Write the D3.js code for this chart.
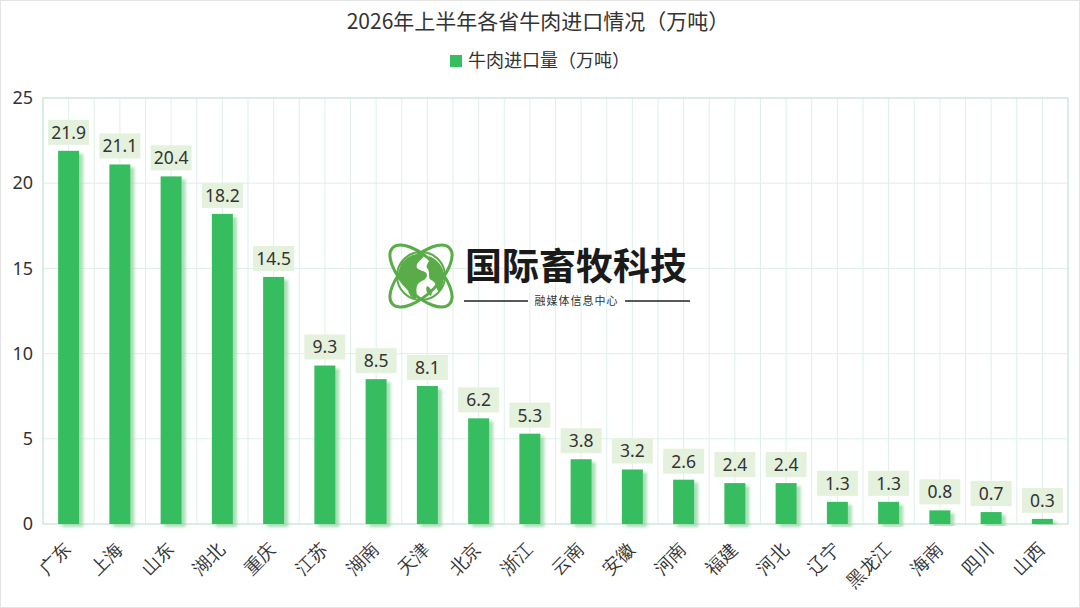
<!DOCTYPE html>
<html>
<head>
<meta charset="utf-8">
<script src="https://cdn.jsdelivr.net/npm/d3@7"></script>
<style>
  body { margin: 0; background: #fff; }
  svg { display: block; font-family: "Noto Sans CJK SC", "Noto Sans", sans-serif; }
</style>
</head>
<body>
<svg id="chart" width="1080" height="608"></svg>
<script>
// data
const provinces = ['广东','上海','山东','湖北','重庆','江苏','湖南','天津','北京','浙江','云南','安徽','河南','福建','河北','辽宁','黑龙江','海南','四川','山西']
const imports = [21.9, 21.1, 20.4, 18.2, 14.5, 9.3, 8.5, 8.1, 6.2, 5.3, 3.8, 3.2, 2.6, 2.4, 2.4, 1.3, 1.3, 0.8, 0.7, 0.3]
const yTicks = [0, 5, 10, 15, 20, 25]
const title = '2026年上半年各省牛肉进口情况（万吨）'
const legendLabel = '牛肉进口量（万吨）'

const W = 1080, H = 608
const margin = { top: 98, right: 12, bottom: 84, left: 43 }
const barColor = '#35bd5f'

const svg = d3.select('#chart')

// outer frame
svg.append('rect')
    .attr('x', 0.5).attr('y', 0.5)
    .attr('width', W - 1).attr('height', H - 1)
    .attr('fill', '#fff')
    .attr('stroke', '#e4e4e4')

// shadow for bars
const defs = svg.append('defs')
defs.append('filter')
    .attr('id', 'barShadow')
    .attr('x', '-50%').attr('y', '-10%').attr('width', '200%').attr('height', '120%')
    .append('feDropShadow')
    .attr('dx', 4).attr('dy', 3)
    .attr('stdDeviation', 1.5)
    .attr('flood-color', '#9fdcae')
    .attr('flood-opacity', 0.9)

const x = d3.scaleBand()
    .domain(provinces)
    .range([margin.left, W - margin.right])
    .paddingInner(0).paddingOuter(0)

const y = d3.scaleLinear()
    .domain([0, 25])
    .range([H - margin.bottom, margin.top])

const g = svg.append('g')

// vertical grid lines at band edges and centers
const vLines = []
provinces.forEach(p => {
    vLines.push(x(p))
    vLines.push(x(p) + x.bandwidth() / 2)
})
vLines.push(W - margin.right)

g.selectAll('.vgrid')
    .data(vLines)
    .enter()
    .append('line')
    .attr('class', 'vgrid')
    .attr('x1', d => d).attr('x2', d => d)
    .attr('y1', margin.top).attr('y2', H - margin.bottom)
    .attr('stroke', '#dfefea')
    .attr('stroke-width', 1)

// horizontal grid
g.selectAll('.hgrid')
    .data(yTicks)
    .enter()
    .append('line')
    .attr('class', 'hgrid')
    .attr('x1', margin.left).attr('x2', W - margin.right)
    .attr('y1', d => y(d)).attr('y2', d => y(d))
    .attr('stroke', '#dfefea')

// plot border
g.append('rect')
    .attr('x', margin.left).attr('y', margin.top)
    .attr('width', W - margin.right - margin.left)
    .attr('height', H - margin.bottom - margin.top)
    .attr('fill', 'none')
    .attr('stroke', '#c2e6d0')
    .attr('stroke-width', 1)

// y axis labels
const yAxis = d3.axisLeft(y).tickValues(yTicks).tickSize(0).tickPadding(10)
svg.append('g')
    .attr('transform', `translate(${margin.left},0)`)
    .call(yAxis)
    .call(s => s.select('.domain').remove())
    .selectAll('text')
    .attr('font-size', 18)
    .attr('fill', '#333')
    .attr('font-family', '"Noto Sans", "Noto Sans CJK SC", sans-serif')

// x axis labels
const xAxis = d3.axisBottom(x).tickSize(0).tickPadding(0)
svg.append('g')
    .attr('transform', `translate(0,${H - margin.bottom})`)
    .call(xAxis)
    .call(s => s.select('.domain').remove())
    .selectAll('text')
    .attr('font-size', 18)
    .attr('fill', '#333')
    .attr('text-anchor', 'end')
    .attr('dy', '0.35em')
    .attr('transform', 'translate(-1,22) rotate(-45)')

// bars
const barW = 21
svg.append('g')
    .selectAll('rect')
    .data(imports)
    .enter()
    .append('rect')
    .attr('x', (d, i) => x(provinces[i]) + x.bandwidth() / 2 - barW / 2)
    .attr('y', d => y(d))
    .attr('width', barW)
    .attr('height', d => y(0) - y(d))
    .attr('fill', barColor)
    .attr('filter', 'url(#barShadow)')

// value labels
const lab = svg.append('g')
    .selectAll('g')
    .data(imports)
    .enter()
    .append('g')
    .attr('transform', (d, i) => `translate(${x(provinces[i]) + x.bandwidth() / 2},${y(d) - 6})`)

lab.append('rect')
    .attr('x', -20.5).attr('y', -25)
    .attr('width', 41).attr('height', 25)
    .attr('fill', '#e4f1dc')

lab.append('text')
    .attr('y', -12.5)
    .attr('dy', '0.36em')
    .attr('text-anchor', 'middle')
    .attr('font-size', 17.5)
    .attr('fill', '#333')
    .attr('font-family', '"Noto Sans", "Noto Sans CJK SC", sans-serif')
    .text(d => d.toFixed(1))

// title
svg.append('text')
    .attr('x', W / 2 - 2).attr('y', 22)
    .attr('dy', '0.35em')
    .attr('text-anchor', 'middle')
    .attr('font-size', 21)
    .attr('fill', '#333')
    .text(title)

// legend
const legend = svg.append('g').attr('transform', 'translate(450,61)')
legend.append('rect')
    .attr('x', 0).attr('y', -6)
    .attr('width', 12).attr('height', 12)
    .attr('fill', barColor)
legend.append('text')
    .attr('x', 18).attr('dy', '0.35em')
    .attr('font-size', 18)
    .attr('fill', '#333')
    .text(legendLabel)

// watermark logo
const green = '#5aac48'
const logo = svg.append('g').attr('transform', 'translate(421,276)')
logo.append('circle')
    .attr('r', 24)
    .attr('fill', '#fff')
    .attr('stroke', green)
    .attr('stroke-width', 2)
// rough continents
logo.append('path')
    .attr('d', 'M-20,-12 C-14,-20 -4,-24 4,-22 C2,-16 -6,-14 -4,-8 C0,-4 6,-6 6,0 C4,6 -2,4 -4,10 C-6,16 -2,20 -6,23 C-14,20 -12,12 -16,8 C-20,4 -24,0 -22,-6 Z')
    .attr('fill', green)
logo.append('path')
    .attr('d', 'M8,-20 C14,-18 20,-12 22,-6 C24,2 22,10 18,16 C14,12 16,6 10,4 C6,2 10,-4 6,-8 C4,-12 10,-14 8,-20 Z')
    .attr('fill', green)
logo.append('path')
    .attr('d', 'M6,10 C10,12 12,16 10,20 C6,18 4,14 6,10 Z')
    .attr('fill', green)
;[45, -45].forEach(a => {
    logo.append('ellipse')
        .attr('rx', 40).attr('ry', 18)
        .attr('transform', `rotate(${a})`)
        .attr('fill', 'none')
        .attr('stroke', green)
        .attr('stroke-width', 3)
})

svg.append('text')
    .attr('x', 465).attr('y', 267)
    .attr('dy', '0.36em')
    .attr('font-size', 37)
    .attr('font-weight', 'bold')
    .attr('fill', '#1a1a1a')
    .attr('textLength', 222)
    .text('国际畜牧科技')

svg.append('line')
    .attr('x1', 464).attr('x2', 528)
    .attr('y1', 301).attr('y2', 301)
    .attr('stroke', '#222').attr('stroke-width', 1.5)
svg.append('line')
    .attr('x1', 625).attr('x2', 690)
    .attr('y1', 301).attr('y2', 301)
    .attr('stroke', '#222').attr('stroke-width', 1.5)
svg.append('text')
    .attr('x', 576.5).attr('y', 301)
    .attr('dy', '0.36em')
    .attr('text-anchor', 'middle')
    .attr('font-size', 11)
    .attr('fill', '#333')
    .attr('letter-spacing', 1)
    .text('融媒体信息中心')
</script>
</body>
</html>
